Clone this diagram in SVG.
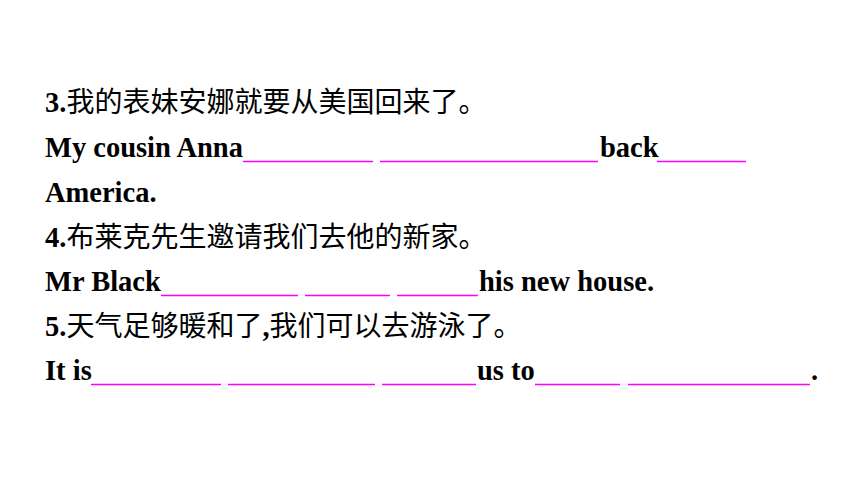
<svg xmlns="http://www.w3.org/2000/svg" width="860" height="484" viewBox="0 0 860 484">
<style>
.en{font-family:"Liberation Serif","Times New Roman",serif;font-weight:bold;font-size:28.5px;fill:#000}
.zh{font-family:"Noto Sans CJK SC","Noto Sans",sans-serif;font-weight:normal;font-size:28px;fill:#000}
.ul{stroke:#FF00FF;stroke-width:1.6;fill:none}
</style>
<rect x="0" y="0" width="860" height="484" fill="#FFFFFF"/>
<g id="q3">
<text x="45" y="112" class="en">3.<tspan class="zh">我的表妹安娜就要从美国回来了。</tspan></text>
<text x="45" y="157" class="en">My cousin Anna</text>
<text x="600" y="157" class="en">back</text>
<text x="45" y="202" class="en">America.</text>
</g>
<g id="q4">
<text x="45" y="247" class="en">4.<tspan class="zh">布莱克先生邀请我们去他的新家。</tspan></text>
<text x="45" y="291" class="en">Mr Black</text>
<text x="479" y="291" class="en">his new house.</text>
</g>
<g id="q5">
<text x="45" y="336" class="en">5.<tspan class="zh">天气足够暖和了</tspan>,<tspan class="zh">我们可以去游泳了。</tspan></text>
<text x="45" y="380" class="en">It is</text>
<text x="477" y="380" class="en">us to</text>
<text x="811" y="380" class="en">.</text>
</g>
<g id="blanks">
<line class="ul" x1="243" y1="161.5" x2="373" y2="161.5"/>
<line class="ul" x1="380" y1="161.5" x2="598" y2="161.5"/>
<line class="ul" x1="657" y1="161.5" x2="746" y2="161.5"/>
<line class="ul" x1="161" y1="295.5" x2="298" y2="295.5"/>
<line class="ul" x1="305" y1="295.5" x2="390" y2="295.5"/>
<line class="ul" x1="397" y1="295.5" x2="478" y2="295.5"/>
<line class="ul" x1="91" y1="384.5" x2="221" y2="384.5"/>
<line class="ul" x1="228" y1="384.5" x2="375" y2="384.5"/>
<line class="ul" x1="382" y1="384.5" x2="476" y2="384.5"/>
<line class="ul" x1="535" y1="384.5" x2="620" y2="384.5"/>
<line class="ul" x1="628" y1="384.5" x2="810" y2="384.5"/>
</g>
</svg>
